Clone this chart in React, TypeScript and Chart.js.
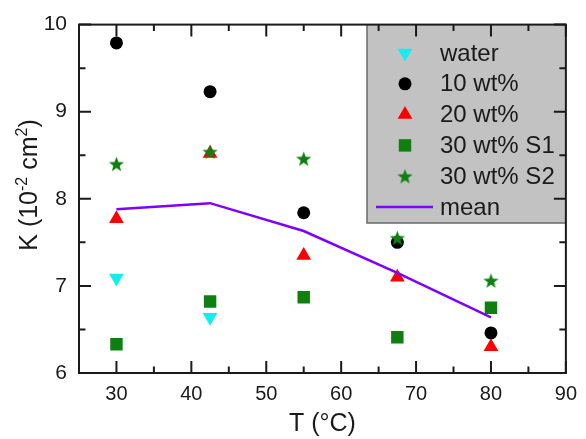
import React, { useEffect, useRef } from 'react';
import { Chart, registerables } from 'chart.js';
import { drawPoint } from 'chart.js/helpers';
Chart.register(...registerables);

const TEMPS = [30, 42.5, 55, 67.5, 80];
const WATER: (number | null)[] = [7.09, 6.64, null, null, null];
const WT10 = [9.79, 9.23, 7.84, 7.5, 6.46];
const WT20 = [7.77, 8.52, 7.35, 7.1, 6.3];
const WT30_S1 = [6.33, 6.82, 6.87, 6.41, 6.75];
const WT30_S2 = [8.4, 8.54, 8.46, 7.55, 7.06];
const MEAN = [7.88, 7.95, 7.63, 7.15, 6.64];

const X_TICKS = [30, 40, 50, 60, 70, 80, 90];
const Y_TICKS = [6, 7, 8, 9, 10];
const X_MINOR = [35, 45, 55, 65, 75, 85];
const Y_MINOR = [6.5, 7.5, 8.5, 9.5];

const FONT = '"Liberation Sans", Arial, sans-serif';
const TEXT = '#1a1a1a';
const GREEN = '#0f800f';

const framePlugin = {
  id: 'frame',
  afterDatasetsDraw(chart: any) {
    const { ctx, chartArea: a, scales } = chart;
    const x = scales.x;
    const y = scales.y;
    ctx.save();
    // legend box
    const bx = 367, by = a.top, bw = a.right - 367, bh = 223 - a.top;
    ctx.fillStyle = '#c2c2c2';
    ctx.fillRect(bx, by, bw, bh);
    ctx.strokeStyle = '#6a6a6a';
    ctx.lineWidth = 1.5;
    ctx.beginPath();
    ctx.moveTo(bx, by);
    ctx.lineTo(bx, by + bh);
    ctx.lineTo(a.right, by + bh);
    ctx.stroke();

    // ticks
    ctx.strokeStyle = TEXT;
    ctx.lineWidth = 2;
    ctx.beginPath();
    const major = 12, minor = 6.5;
    X_TICKS.forEach((v) => {
      const px = x.getPixelForValue(v);
      ctx.moveTo(px, a.bottom); ctx.lineTo(px, a.bottom - major);
      ctx.moveTo(px, a.top); ctx.lineTo(px, a.top + major);
    });
    X_MINOR.forEach((v) => {
      const px = x.getPixelForValue(v);
      ctx.moveTo(px, a.bottom); ctx.lineTo(px, a.bottom - minor);
      ctx.moveTo(px, a.top); ctx.lineTo(px, a.top + minor);
    });
    Y_TICKS.forEach((v) => {
      const py = y.getPixelForValue(v);
      ctx.moveTo(a.left, py); ctx.lineTo(a.left + major, py);
      ctx.moveTo(a.right, py); ctx.lineTo(a.right - major, py);
    });
    Y_MINOR.forEach((v) => {
      const py = y.getPixelForValue(v);
      ctx.moveTo(a.left, py); ctx.lineTo(a.left + minor, py);
      ctx.moveTo(a.right, py); ctx.lineTo(a.right - minor, py);
    });
    ctx.stroke();
    ctx.strokeRect(a.left, a.top, a.right - a.left, a.bottom - a.top);

    // legend content
    const symX = 405, textX = 440, row0 = 53, step = 30.8;
    ctx.font = `24px ${FONT}`;
    ctx.textBaseline = 'middle';
    ctx.textAlign = 'left';
    chart.data.datasets.forEach((ds: any, i: number) => {
      const ry = row0 + i * step;
      if (ds.showLine) {
        ctx.strokeStyle = ds.borderColor;
        ctx.lineWidth = ds.borderWidth;
        ctx.beginPath();
        ctx.moveTo(376, ry);
        ctx.lineTo(433, ry);
        ctx.stroke();
      } else {
        ctx.fillStyle = ds.pointBackgroundColor;
        drawPoint(ctx, { pointStyle: ds.pointStyle, rotation: ds.pointRotation || 0, radius: ds.pointRadius, borderWidth: 0 } as any, symX, ry);
      }
      ctx.fillStyle = TEXT;
      ctx.fillText(ds.label, textX, ry + 1);
    });

    // y-axis title with superscripts
    const parts: [string, boolean][] = [['K (10', false], ['-2', true], [' cm', false], ['2', true], [')', false]];
    const big = `25px ${FONT}`, small = `16px ${FONT}`;
    let total = 0;
    parts.forEach(([t, sup]) => { ctx.font = sup ? small : big; total += ctx.measureText(t).width; });
    ctx.translate(37, 185);
    ctx.rotate(-Math.PI / 2);
    ctx.textBaseline = 'alphabetic';
    ctx.fillStyle = TEXT;
    let cx = -total / 2;
    parts.forEach(([t, sup]) => {
      ctx.font = sup ? small : big;
      ctx.fillText(t, cx, sup ? -10 : 0);
      cx += ctx.measureText(t).width;
    });
    ctx.restore();
  },
};

export default function App() {
  const ref = useRef<HTMLCanvasElement>(null);
  useEffect(() => {
    const canvas = ref.current!;
    const star = document.createElement('canvas');
    star.width = 17; star.height = 17;
    const sctx = star.getContext('2d')!;
    sctx.fillStyle = GREEN;
    sctx.beginPath();
    for (let i = 0; i < 10; i++) {
      const r = i % 2 === 0 ? 8 : 3.3;
      const ang = -Math.PI / 2 + (i * Math.PI) / 5;
      const px = 8.5 + r * Math.cos(ang);
      const py = 9.2 + r * Math.sin(ang);
      if (i === 0) sctx.moveTo(px, py); else sctx.lineTo(px, py);
    }
    sctx.closePath();
    sctx.fill();

    const pts = (arr: (number | null)[]) =>
      TEMPS.map((t, i) => ({ x: t, y: arr[i] })).filter((p) => p.y !== null);

    const chart = new Chart(canvas, {
      type: 'scatter',
      data: {
        datasets: [
          { label: 'water', data: pts(WATER), pointStyle: 'triangle', pointRotation: 180, pointRadius: 8.5, pointBackgroundColor: '#10eeee', pointBorderWidth: 0, order: 1 },
          { label: '10 wt%', data: pts(WT10), pointStyle: 'circle', pointRadius: 6.5, pointBackgroundColor: '#000000', pointBorderWidth: 0, order: 2 },
          { label: '20 wt%', data: pts(WT20), pointStyle: 'triangle', pointRadius: 8.5, pointBackgroundColor: '#ff0000', pointBorderWidth: 0, order: 3 },
          { label: '30 wt% S1', data: pts(WT30_S1), pointStyle: 'rect', pointRadius: 8.8, pointBackgroundColor: GREEN, pointBorderWidth: 0, order: 4 },
          { label: '30 wt% S2', data: pts(WT30_S2), pointStyle: star, pointRadius: 8, pointBackgroundColor: GREEN, pointBorderWidth: 0, order: 0 },
          { label: 'mean', data: pts(MEAN), showLine: true, borderColor: '#8000ff', borderWidth: 2.5, pointRadius: 0, order: -1 },
        ] as any,
      },
      options: {
        responsive: false,
        animation: false,
        layout: { padding: { left: 0, top: 23, right: 13, bottom: 0 } },
        plugins: { legend: { display: false }, tooltip: { enabled: false } },
        scales: {
          x: {
            type: 'linear',
            min: 25,
            max: 90,
            grid: { display: false, drawTicks: false },
            border: { display: false },
            afterBuildTicks: (s: any) => { s.ticks = X_TICKS.map((v) => ({ value: v })); },
            afterFit: (s: any) => { s.height = 66; },
            ticks: { color: TEXT, font: { family: FONT, size: 20 }, padding: 9, maxRotation: 0, autoSkip: false },
            title: { display: true, text: 'T (°C)', color: TEXT, font: { family: FONT, size: 25 }, padding: 0 },
          },
          y: {
            type: 'linear',
            min: 6,
            max: 10,
            grid: { display: false, drawTicks: false },
            border: { display: false },
            afterBuildTicks: (s: any) => { s.ticks = Y_TICKS.map((v) => ({ value: v })); },
            afterFit: (s: any) => { s.width = 79; },
            ticks: { color: TEXT, font: { family: FONT, size: 21 }, padding: 12, autoSkip: false },
          },
        },
      },
      plugins: [framePlugin],
    } as any);
    return () => chart.destroy();
  }, []);

  return (
    <div style={{ position: 'fixed', left: 0, top: 0, width: 586, height: 439, background: '#fff' }}>
      <canvas ref={ref} width={586} height={439} style={{ width: 586, height: 439, display: 'block' }} />
    </div>
  );
}
